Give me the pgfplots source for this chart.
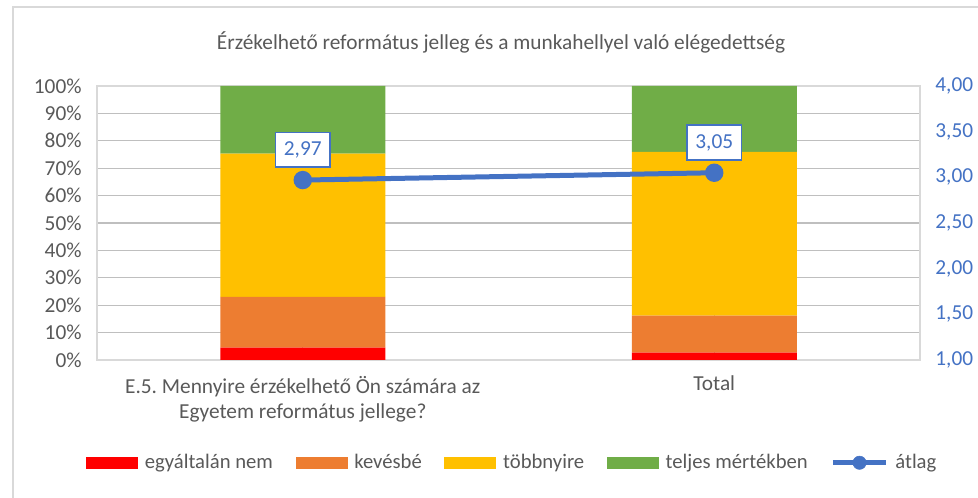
\documentclass[border=0pt]{standalone}
\usepackage{pgfplots}
\pgfplotsset{compat=1.18}
\usepackage{fontspec}
\setmainfont{Carlito}
\frenchspacing

\definecolor{cRed}{HTML}{FF0000}
\definecolor{cOrange}{HTML}{ED7D31}
\definecolor{cYellow}{HTML}{FFC000}
\definecolor{cGreen}{HTML}{70AD47}
\definecolor{cBlue}{HTML}{4472C4}
\definecolor{txt}{HTML}{595959}
\definecolor{grid}{HTML}{D9D9D9}

% shares per category (percent)
\pgfplotstableread{
x  nem   kevesbe  tobbnyire  teljes
0  4.5   18.5     52.3       24.7
1  2.7   13.5     59.8       24.0
}\shares

\pgfplotsset{
  barleg/.style={legend image code/.code={
    \fill[##1] (0pt,-4.5pt) rectangle (39pt,4.5pt);}},
}

\begin{document}
\begin{tikzpicture}[font=\fontsize{16}{18.75}\selectfont]
\begin{axis}[
  name=main,
  at={(0,0)}, anchor=south west,
  scale only axis,
  width=617.25pt, height=205.5pt,
  xmin=-0.5, xmax=1.5,
  ymin=0, ymax=100,
  ybar stacked,
  bar width=123.75pt,
  xtick={0,1},
  xticklabels={{E.5.\ Mennyire érzékelhető Ön számára az\\Egyetem református jellege?},{Total}},
  x tick label style={align=center, text=txt, yshift=-8.5pt},
  ytick={0,10,...,100},
  yticklabel={\pgfmathprintnumber{\tick}\%},
  y tick label style={text=txt, xshift=-8pt},
  /pgf/number format/assume math mode=true,
  major tick length=0pt,
  ymajorgrids,
  grid style={grid, line width=1pt},
  axis line style={grid, line width=0.8pt},
  legend columns=5,
  legend style={draw=none, fill=none, at={(0.505,-0.375)}, anchor=center,
    /tikz/every odd column/.append style={column sep=3pt},
    /tikz/every even column/.append style={column sep=15pt},
    font=\fontsize{15.5}{18}\selectfont, text=txt},
]
\addplot[fill=cRed, draw=none, barleg] table[x=x, y=nem] {\shares};
\addplot[fill=cOrange, draw=none, barleg] table[x=x, y=kevesbe] {\shares};
\addplot[fill=cYellow, draw=none, barleg] table[x=x, y=tobbnyire] {\shares};
\addplot[fill=cGreen, draw=none, barleg] table[x=x, y=teljes] {\shares};
\addlegendimage{legend image code/.code={
  \draw[cBlue, line width=3.75pt] (0pt,0pt) -- (40pt,0pt);
  \fill[cBlue] (20pt,0pt) circle (5pt);}}
\legend{egyáltalán nem, kevésbé, többnyire, teljes mértékben, átlag}
\end{axis}

\begin{axis}[
  at={(0,0)}, anchor=south west,
  scale only axis,
  width=617.25pt, height=205.5pt,
  xmin=-0.5, xmax=1.5,
  ymin=1, ymax=4,
  axis x line=none,
  axis y line*=right,
  axis line style={draw=none},
  ytick={1,1.5,...,4},
  major tick length=0pt,
  y tick label style={text=cBlue, xshift=8pt},
  /pgf/number format/fixed,
  /pgf/number format/fixed zerofill,
  /pgf/number format/precision=2,
  /pgf/number format/use comma,
  /pgf/number format/assume math mode=true,
  clip=false,
]
\addplot[cBlue, line width=3.75pt, mark=*, mark size=5pt,
  nodes near coords,
  every node near coord/.append style={anchor=south, yshift=9pt,
    draw=cBlue, line width=1.2pt, fill=white, text=cBlue,
    minimum width=41pt, minimum height=26pt, inner sep=2pt},
] coordinates {(0,2.97) (1,3.05)};
\end{axis}

\node[text=txt, anchor=center] at (303pt,238.5pt)
  {Érzékelhető református jelleg és a munkahellyel való elégedettség};
\draw[grid, line width=1pt] (-63pt,-103.5pt) -- (-63pt,264.75pt) -- (662pt,264.75pt);
\pgfresetboundingbox
\path[use as bounding box] (-72.75pt,-103.5pt) rectangle (660.75pt,270pt);
\end{tikzpicture}
\end{document}
